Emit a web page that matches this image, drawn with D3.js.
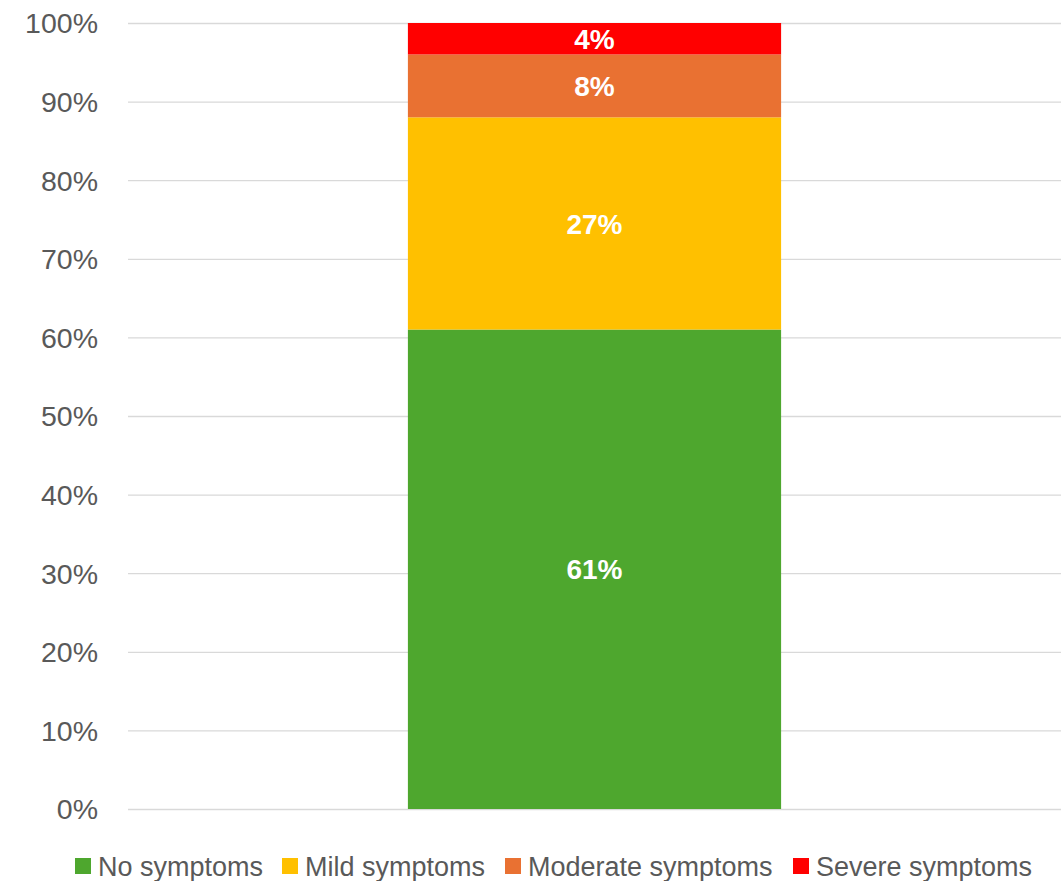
<!DOCTYPE html>
<html><head><meta charset="utf-8">
<script src="https://cdn.jsdelivr.net/npm/d3@7"></script>
<style>body{margin:0;background:#fff}svg{display:block}</style>
</head><body><svg id="c" width="1061" height="881"></svg>
<script>
const categories = ["All"];
const seriesNames = ["No symptoms","Mild symptoms","Moderate symptoms","Severe symptoms"];
const seriesValues = [61, 27, 8, 4];
const seriesColors = ["#4EA72E","#FFC000","#E97132","#FF0000"];
const tickValues = [0,10,20,30,40,50,60,70,80,90,100];

(function(){
const svg = d3.select("#c");
const font = "'Liberation Sans', Arial, sans-serif";
const mLeft = 128, mRight = 1061, mTop = 23, mBottom = 809;
const y = d3.scaleLinear().domain([0,100]).range([mBottom, mTop]);
const x = d3.scaleBand().domain(categories).range([mLeft, mRight]).paddingInner(0.6).paddingOuter(0.3);

const yAxis = d3.axisLeft(y).tickValues(tickValues).tickFormat(d => d + "%").tickSize(-(mRight-mLeft)).tickPadding(30);
const g = svg.append("g").attr("transform", `translate(${mLeft},0)`).call(yAxis);
g.select(".domain").remove();
g.selectAll(".tick line").attr("stroke", "#d9d9d9").attr("stroke-width", 1.3);
g.selectAll(".tick text").attr("fill", "#595959").attr("font-size", 28.5).attr("font-family", font).attr("dy","0.35em");

let cum = 0;
const stacked = seriesValues.map((v,i) => { const s = {name: seriesNames[i], v, y0: cum, y1: cum + v, color: seriesColors[i]}; cum += v; return s; });
svg.selectAll("rect.bar").data(stacked).enter().append("rect")
  .attr("x", x("All")).attr("width", x.bandwidth())
  .attr("y", d => y(d.y1)).attr("height", d => y(d.y0) - y(d.y1))
  .attr("fill", d => d.color);
svg.selectAll("text.lbl").data(stacked).enter().append("text")
  .attr("x", x("All") + x.bandwidth()/2).attr("y", d => (y(d.y0)+y(d.y1))/2)
  .attr("dy", "0.36em").attr("text-anchor","middle")
  .attr("fill","#fff").attr("font-weight","bold").attr("font-size",28).attr("font-family",font)
  .text(d => d.v + "%");

const legX = [75, 282, 505, 793];
const lg = svg.selectAll("g.leg").data(stacked).enter().append("g").attr("transform",(d,i)=>`translate(${legX[i]},858)`);
lg.append("rect").attr("width",16).attr("height",16).attr("fill",d=>d.color);
lg.append("text").attr("x",23).attr("y",8).attr("dy","0.36em").attr("fill","#595959").attr("font-size",27).attr("font-family",font).text(d=>d.name);
})();
</script></body></html>
